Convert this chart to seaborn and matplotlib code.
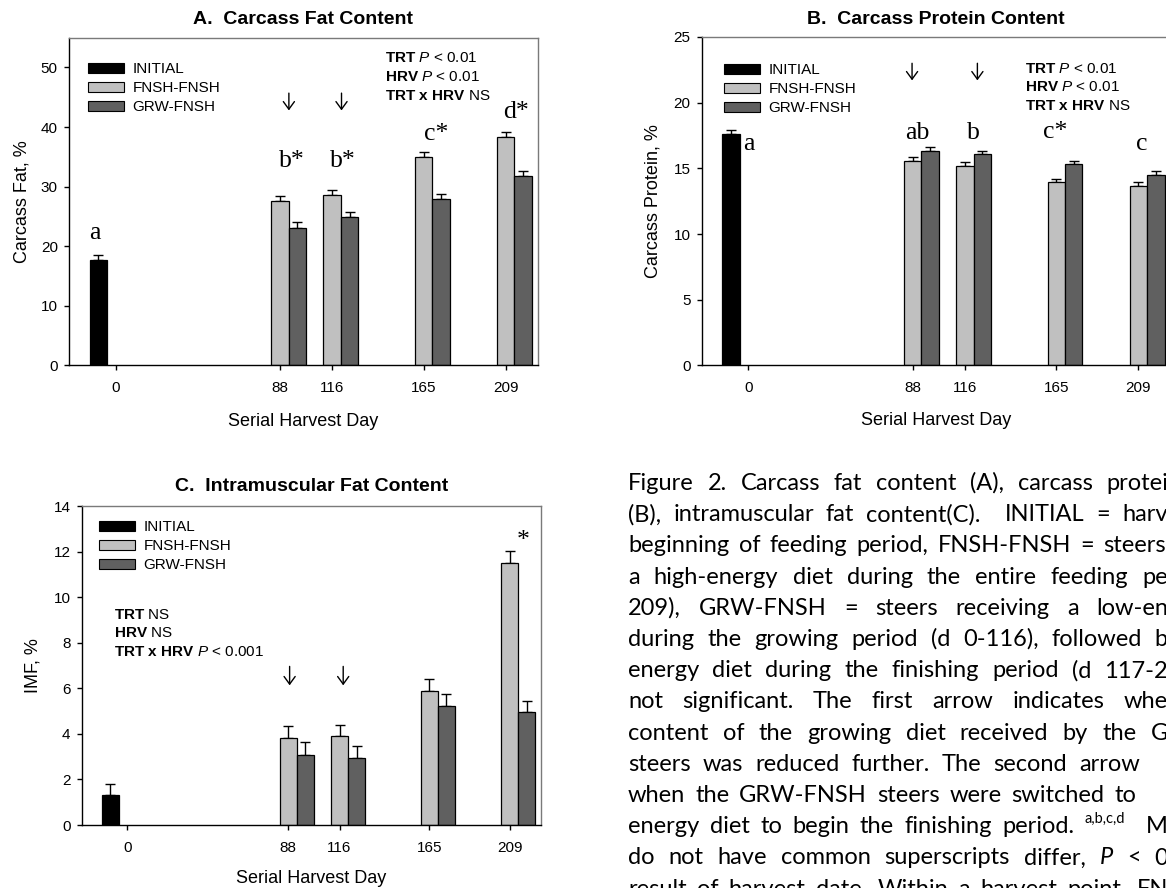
import matplotlib
matplotlib.use("Agg")
import numpy as np
import pandas as pd
import matplotlib.pyplot as plt
import matplotlib.colors as mcolors
from matplotlib.patches import Patch
from matplotlib.transforms import Affine2D
import seaborn as sns

# ---------------------------------------------------------------- data
INITIAL_DAYS = [0]
HARVEST_DAYS = [88, 116, 165, 209]
TICK_DAYS = [0, 88, 116, 165, 209]
TICK_LABELS = ["0", "88", "116", "165", "209"]
GROUPS = ["INITIAL", "FNSH-FNSH", "GRW-FNSH"]

# A. carcass fat, %
FAT_INITIAL = [17.7]
FAT_INITIAL_SE = [0.85]
FAT_FNSH = [27.6, 28.6, 35.0, 38.3]
FAT_FNSH_SE = [0.9, 0.85, 0.85, 0.85]
FAT_GRW = [23.1, 24.9, 27.9, 31.8]
FAT_GRW_SE = [0.9, 0.85, 0.85, 0.85]
FAT_LETTERS = ["a", "b*", "b*", "c*", "d*"]
FAT_STATS = [r"$\mathbf{TRT}$ $P$ < 0.01", r"$\mathbf{HRV}$ $P$ < 0.01",
             r"$\mathbf{TRT\ x\ HRV}$ NS"]

# B. carcass protein, %
PROT_INITIAL = [17.65]
PROT_INITIAL_SE = [0.25]
PROT_FNSH = [15.55, 15.22, 13.93, 13.68]
PROT_FNSH_SE = [0.28, 0.28, 0.28, 0.28]
PROT_GRW = [16.34, 16.06, 15.32, 14.51]
PROT_GRW_SE = [0.30, 0.25, 0.26, 0.28]
PROT_LETTERS = ["a", "ab", "b", "c*", "c"]
PROT_STATS = [r"$\mathbf{TRT}$ $P$ < 0.01", r"$\mathbf{HRV}$ $P$ < 0.01",
              r"$\mathbf{TRT\ x\ HRV}$ NS"]

# C. intramuscular fat, %
IMF_INITIAL = [1.30]
IMF_INITIAL_SE = [0.51]
IMF_FNSH = [3.82, 3.92, 5.89, 11.51]
IMF_FNSH_SE = [0.52, 0.49, 0.51, 0.52]
IMF_GRW = [3.09, 2.96, 5.23, 4.95]
IMF_GRW_SE = [0.54, 0.49, 0.50, 0.51]
IMF_LETTERS = ["*"]
IMF_STATS = [r"$\mathbf{TRT}$ NS", r"$\mathbf{HRV}$ NS",
             r"$\mathbf{TRT\ x\ HRV}$ $P$ < 0.001"]

# Figure caption (each line: visible part, remainder past the page edge)
CAPTION_LINES = [
    ("Figure 2. Carcass fat content (A), carcass protei", "n content"),
    ("(B), intramuscular fat content(C).  INITIAL = harv", "ested at the"),
    ("beginning of feeding period, FNSH-FNSH = steers", " receiving"),
    ("a high-energy diet during the entire feeding pe", "riod (d 0-"),
    ("209), GRW-FNSH = steers receiving a low-en", "ergy diet"),
    ("during the growing period (d 0-116), followed b", "y a high-"),
    ("energy diet during the finishing period (d 117-2", "09). NS ="),
    ("not significant. The first arrow indicates whe", "n the energy"),
    ("content of the growing diet received by the G", "RW-FNSH"),
    ("steers was reduced further. The second arrow", ""),
    ("when the GRW-FNSH steers were switched to", ""),
    ("energy diet to begin the finishing period. ^a,b,c,d  M", "eans that"),
    ("do not have common superscripts differ, _P_ < 0", ".05, as a"),
    ("result of harvest date. Within a harvest point, FN", "SH-FNSH"),
]

# ---------------------------------------------------------------- style
PALETTE = {"INITIAL": "#000000", "FNSH-FNSH": "#c0c0c0", "GRW-FNSH": "#606060"}
FIG_W, FIG_H = 1166, 888

sns.set_style("ticks", rc={
    "axes.edgecolor": "black", "text.color": "black", "axes.labelcolor": "black",
    "xtick.color": "black", "ytick.color": "black",
})
plt.rcParams["font.family"] = ["Liberation Sans", "DejaVu Sans"]
plt.rcParams["mathtext.fontset"] = "custom"
plt.rcParams["mathtext.rm"] = "Liberation Sans"
plt.rcParams["mathtext.it"] = "Liberation Sans:italic"
plt.rcParams["mathtext.bf"] = "Liberation Sans:bold"
plt.rcParams["axes.linewidth"] = 1.0

fig = plt.figure(figsize=(FIG_W / 100, FIG_H / 100), dpi=100)
PX = Affine2D().scale(1 / FIG_W, -1 / FIG_H).translate(0, 1) + fig.transFigure


def px_axes(left, top, right, bottom):
    return fig.add_axes([left / FIG_W, 1 - bottom / FIG_H,
                         (right - left) / FIG_W, (bottom - top) / FIG_H])


def draw_panel(ax, initial, initial_se, fnsh, fnsh_se, grw, grw_se,
               letters, stats, lay):
    df = pd.DataFrame({
        "day": INITIAL_DAYS + HARVEST_DAYS + HARVEST_DAYS,
        "value": initial + fnsh + grw,
        "se": initial_se + fnsh_se + grw_se,
        "group": [GROUPS[0]] * len(initial) + [GROUPS[1]] * len(fnsh)
                 + [GROUPS[2]] * len(grw),
    })
    sns.barplot(data=df, x="day", y="value", hue="group", hue_order=GROUPS,
                palette=PALETTE, native_scale=True, width=1.0, dodge=True,
                errorbar=None, saturation=1, edgecolor="black", linewidth=0.9,
                legend=False, ax=ax)

    # one-sided (upper) standard-error bars on every bar
    for cont in list(ax.containers):
        fc = cont.patches[0].get_facecolor()
        group = next(g for g in GROUPS
                     if np.allclose(mcolors.to_rgba(PALETTE[g]), fc, atol=0.01))
        sub = df[df["group"] == group]
        for bar in cont.patches:
            cx = bar.get_x() + bar.get_width() / 2
            row = sub.iloc[int(np.argmin(np.abs(sub["day"].to_numpy() - cx)))]
            ax.errorbar(cx, bar.get_height(), yerr=[[0], [row["se"]]], fmt="none",
                        ecolor="black", elinewidth=1.0, capsize=3.3, capthick=1.0,
                        zorder=0.9)

    ax.set_xlim(-25, 226)
    ax.set_ylim(0, lay["ymax"])
    ax.set_yticks(np.arange(0, lay["ymax"] + 1e-9, lay["ystep"]))
    ax.set_xticks(TICK_DAYS, TICK_LABELS)
    ax.tick_params(direction="out", length=3.6, width=1.0, labelsize=11)
    ax.tick_params(axis="x", pad=7.9)
    ax.tick_params(axis="y", pad=4.5)
    for side in ("left", "bottom"):
        ax.spines[side].set_color("black")
        ax.spines[side].set_linewidth(1.0)
    for side in ("top", "right"):
        ax.spines[side].set_color("#7a7a7a")
        ax.spines[side].set_linewidth(1.0)

    ax.set_title(lay["title"], fontsize=14, fontweight="bold", pad=lay["title_pad"])
    ax.set_xlabel("Serial Harvest Day", fontsize=13)
    ax.set_ylabel(lay["ylabel"], fontsize=13)
    ax.xaxis.set_label_coords(0.5, lay["xlabel_y"])
    ax.yaxis.set_label_coords(lay["ylabel_x"], 0.5)

    handles = [Patch(facecolor=PALETTE[g], edgecolor="black", linewidth=0.8, label=g)
               for g in GROUPS]
    ax.legend(handles=handles, loc="upper left", bbox_to_anchor=lay["legend"],
              frameon=False, borderpad=0, borderaxespad=0, fontsize=11,
              handlelength=2.35, handleheight=0.6, handletextpad=0.55,
              labelspacing=0.32)

    for text, y in zip(stats, lay["stats_y"]):
        ax.text(lay["stats_x"], y, text, transform=ax.transAxes, fontsize=11,
                ha="left", va="baseline")

    for text, (x, y) in zip(letters, lay["letter_xy"]):
        ax.text(x, y, text, fontsize=18.5, family="Liberation Serif",
                ha="center", va="baseline")

    for x in lay["arrow_x"]:
        ax.annotate("", xy=(x, lay["arrow_y"][1]), xytext=(x, lay["arrow_y"][0]),
                    arrowprops=dict(arrowstyle="->,head_length=0.55,head_width=0.4",
                                    lw=1.0, color="black", shrinkA=0, shrinkB=0))


ax_a = px_axes(69, 37.7, 537.5, 365.5)
draw_panel(ax_a, FAT_INITIAL, FAT_INITIAL_SE, FAT_FNSH, FAT_FNSH_SE, FAT_GRW,
           FAT_GRW_SE, FAT_LETTERS, FAT_STATS, dict(
               title="A.  Carcass Fat Content", title_pad=9.9,
               ylabel="Carcass Fat, %", ymax=55, ystep=10,
               xlabel_y=-0.1434, ylabel_x=-0.0826,
               legend=(0.0406, 0.925), stats_x=0.6745,
               stats_y=(0.9268, 0.868, 0.81),
               letter_xy=[(-11, 21.2), (94.3, 33.3), (121.8, 33.3),
                          (171.5, 37.8), (214.6, 41.5)],
               arrow_x=(92.8, 121.0), arrow_y=(45.7, 42.8)))

ax_b = px_axes(701.7, 37.0, 1170.2, 365.5)
draw_panel(ax_b, PROT_INITIAL, PROT_INITIAL_SE, PROT_FNSH, PROT_FNSH_SE, PROT_GRW,
           PROT_GRW_SE, PROT_LETTERS, PROT_STATS, dict(
               title="B.  Carcass Protein Content", title_pad=9.4,
               ylabel="Carcass Protein, %", ymax=25, ystep=5,
               xlabel_y=-0.141, ylabel_x=-0.0862,
               legend=(0.0476, 0.920), stats_x=0.690,
               stats_y=(0.8919, 0.8347, 0.7778),
               letter_xy=[(0.5, 16.4), (90.3, 17.2), (120.7, 17.2),
                          (164.6, 17.3), (210.5, 16.4)],
               arrow_x=(87.7, 122.7), arrow_y=(23.0, 21.7)))

ax_c = px_axes(81.7, 506, 540.7, 825)
draw_panel(ax_c, IMF_INITIAL, IMF_INITIAL_SE, IMF_FNSH, IMF_FNSH_SE, IMF_GRW,
           IMF_GRW_SE, IMF_LETTERS, IMF_STATS, dict(
               title="C.  Intramuscular Fat Content", title_pad=11.0,
               ylabel="IMF, %", ymax=14, ystep=2,
               xlabel_y=-0.1417, ylabel_x=-0.088,
               legend=(0.0383, 0.955), stats_x=0.0695,
               stats_y=(0.6448, 0.5884, 0.5298),
               letter_xy=[(216.5, 12.2)],
               arrow_x=(88.7, 118.0), arrow_y=(6.96, 6.13)))

# ---------------------------------------------------------------- caption
CAP_FONT = "Lato"
CAP_SIZE = 17.0
CAP_X0 = 628
CAP_BASE0 = 490
CAP_STEP = 31.2
CAP_RIGHT = [1168, 1168, 1166, 1168, 1168, 1168, 1168, 1168, 1168, 1140, 1136,
             1168, 1168, 1168]
renderer = fig.canvas.get_renderer()


def word_style(word):
    if word.startswith("^"):
        return word[1:], dict(fontsize=CAP_SIZE * 0.62), -0.45 * CAP_SIZE * 100 / 72
    if len(word) > 2 and word.startswith("_") and word.endswith("_"):
        return word[1:-1], dict(fontsize=CAP_SIZE, fontstyle="italic"), 0.0
    return word, dict(fontsize=CAP_SIZE), 0.0


def word_width(word):
    text, kw, _ = word_style(word)
    if not text:
        return 0.0
    t = fig.text(0, 0, text, family=CAP_FONT, **kw)
    w = t.get_window_extent(renderer).width
    t.remove()
    return w


space_w = word_width("a a") - word_width("aa")
for i, ((visible, rest), right) in enumerate(zip(CAPTION_LINES, CAP_RIGHT)):
    words = (visible + rest).split(" ")
    shown = visible.split(" ")
    widths = [word_width(w) for w in words]
    used = sum(widths[:len(shown) - 1]) + word_width(shown[-1])
    gap = (right - CAP_X0 - used) / max(len(shown) - 1, 1)
    gap = max(gap, 0.45 * space_w)
    x = CAP_X0
    base = CAP_BASE0 + i * CAP_STEP
    for w, wd in zip(words, widths):
        text, kw, dy = word_style(w)
        if text:
            fig.text(x, base + dy, text, family=CAP_FONT, ha="left", va="baseline",
                     transform=PX, **kw)
        x += wd + gap

fig.savefig("out.png", dpi=100)
